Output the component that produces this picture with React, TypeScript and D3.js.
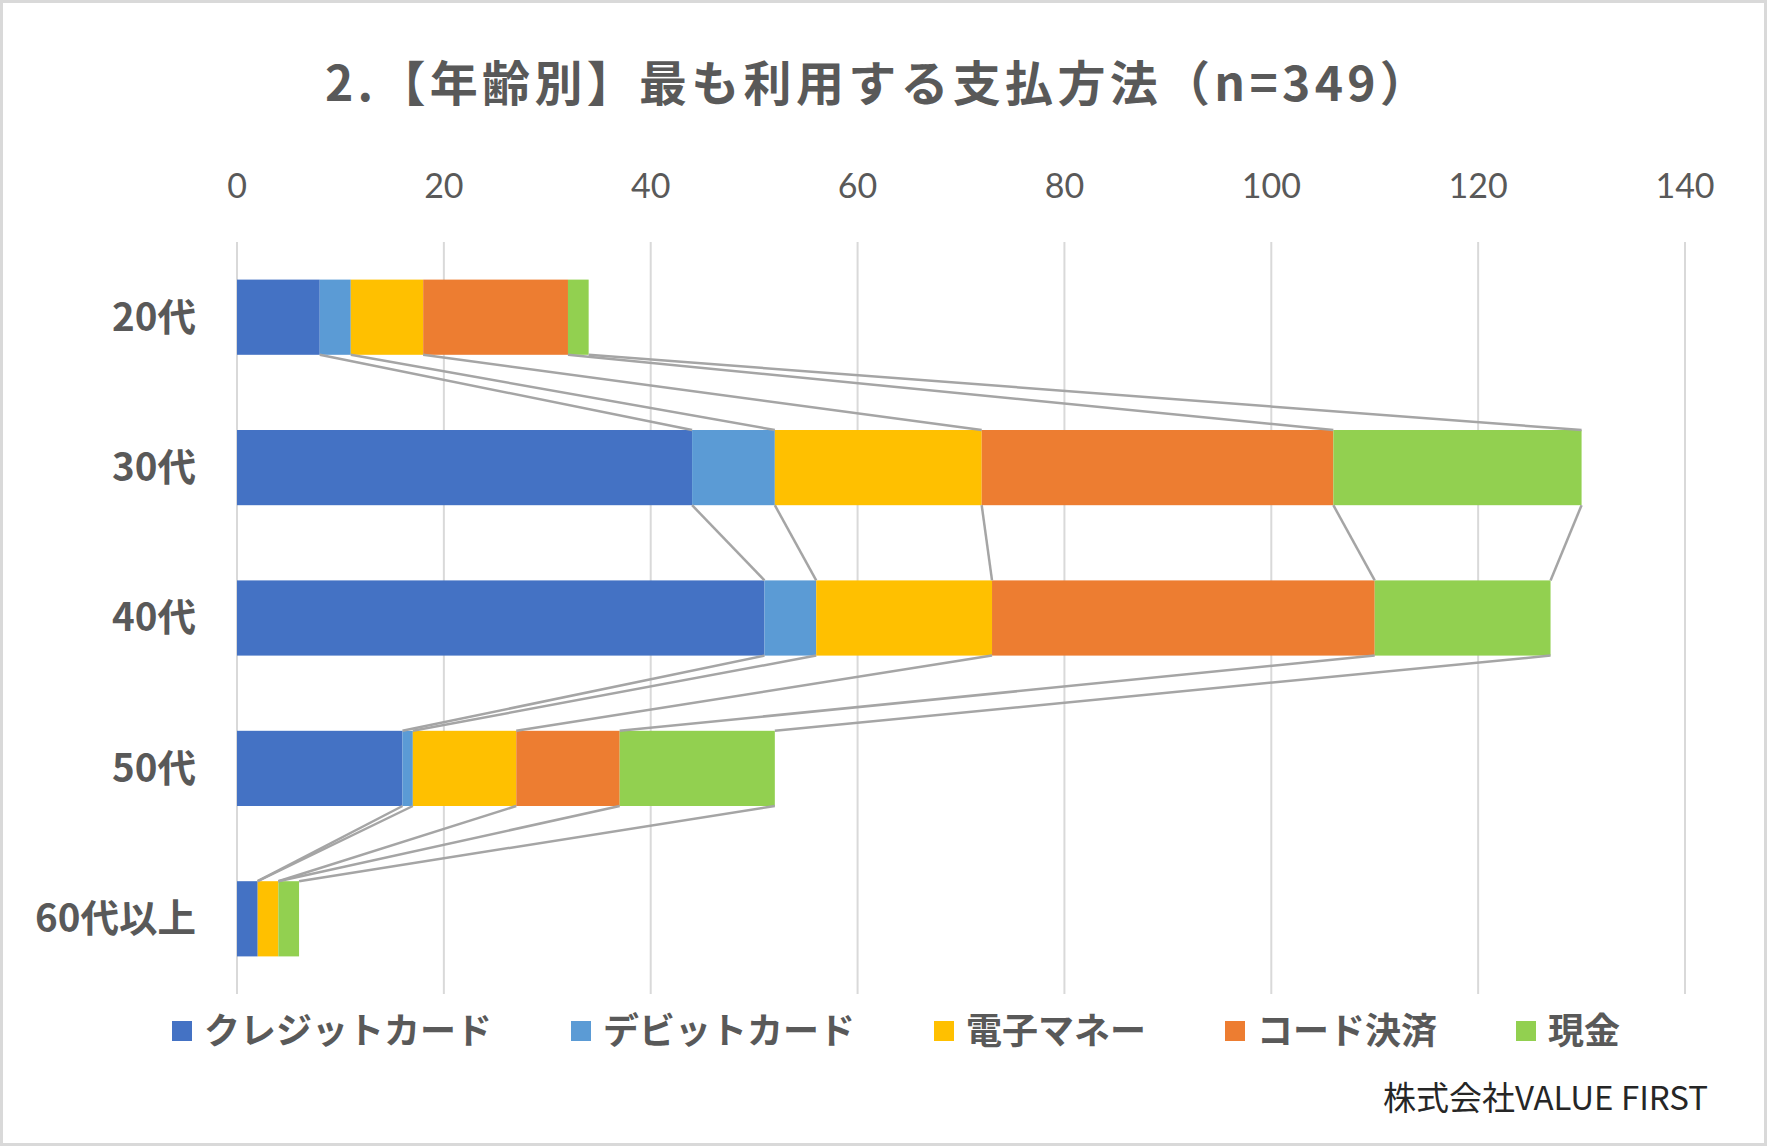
import React from "react";
import * as d3 from "d3";

const categories = ["20代", "30代", "40代", "50代", "60代以上"];
const seriesNames = ["クレジットカード", "デビットカード", "電子マネー", "コード決済", "現金"];
const credit = [8, 44, 51, 16, 2];
const debit = [3, 8, 5, 1, 0];
const emoney = [7, 20, 17, 10, 2];
const codePay = [14, 34, 37, 10, 0];
const cash = [2, 24, 17, 15, 2];
const tickValues = [0, 20, 40, 60, 80, 100, 120, 140];
const colors = ["#4472C4", "#5B9BD5", "#FFC000", "#ED7D31", "#92D050"];

const W = 1767;
const H = 1146;
const JP = "'Noto Sans CJK JP', 'Noto Sans', sans-serif";
const LAT = "Lato, 'Noto Sans CJK JP', sans-serif";

export default function App() {
  const seriesValues = [credit, debit, emoney, codePay, cash];
  const rows = categories.map((c, i) => {
    const r: any = { cat: c };
    seriesNames.forEach((s, j) => (r[s] = seriesValues[j][i]));
    return r;
  });
  const stacked = d3.stack().keys(seriesNames)(rows);

  const x = d3.scaleLinear().domain([0, 140]).range([237, 1685]);
  const y = d3.scaleBand().domain(categories).range([242, 994]).paddingInner(0.5).paddingOuter(0.25);
  const bw = y.bandwidth();

  // legend layout
  const legFont = 36;
  let lx = 172;
  const legendItems = seriesNames.map((s, j) => {
    const item = { name: s, x: lx, color: colors[j] };
    lx += 20 + 12 + s.length * legFont + 79;
    return item;
  });

  return (
    <div style={{ position: "absolute", left: 0, top: 0 }}>
      <svg width={W} height={H} style={{ display: "block", background: "#fff" }}>
        <rect x={1.5} y={1.5} width={W - 3} height={H - 3} fill="#fff" stroke="#d9d9d9" strokeWidth={3} />
        <text
          x={325}
          y={101}
          textAnchor="start"
          fontFamily={JP}
          fontWeight="bold"
          fontSize={48}
          letterSpacing={4.3}
          fill="#595959"
        >
          2.【年齢別】最も利用する支払方法（n=349）
        </text>
        {tickValues.map((t) => (
          <g key={t}>
            <line x1={x(t)} x2={x(t)} y1={242} y2={994} stroke="#d9d9d9" strokeWidth={2} />
            <text x={x(t)} y={198} textAnchor="middle" fontFamily={LAT} fontSize={34} fill="#595959">
              {t}
            </text>
          </g>
        ))}
        {categories.map((c) => (
          <text
            key={c}
            x={196}
            y={(y(c) as number) + bw / 2}
            dy="0.35em"
            textAnchor="end"
            fontFamily={JP}
            fontWeight="bold"
            fontSize={38.5}
            fill="#595959"
          >
            {c}
          </text>
        ))}
        {stacked.map((s, j) => (
          <g key={s.key}>
            {s.map((d, i) => (
              <rect
                key={i}
                x={x(d[0])}
                y={y(categories[i]) as number}
                width={Math.max(0, x(d[1]) - x(d[0]))}
                height={bw}
                fill={colors[j]}
              />
            ))}
          </g>
        ))}
        {stacked.map((s, j) => (
          <g key={"l" + s.key}>
            {s.slice(0, -1).map((d, i) => (
              <line
                key={i}
                x1={x(d[1])}
                y1={(y(categories[i]) as number) + bw}
                x2={x(s[i + 1][1])}
                y2={y(categories[i + 1]) as number}
                stroke="#A5A5A5"
                strokeWidth={2.5}
              />
            ))}
          </g>
        ))}
        {legendItems.map((it) => (
          <g key={it.name}>
            <rect x={it.x} y={1021} width={20} height={20} fill={it.color} />
            <text x={it.x + 32} y={1031} dy="0.35em" fontFamily={JP} fontWeight="bold" fontSize={legFont} fill="#595959">
              {it.name}
            </text>
          </g>
        ))}
        <text x={1708} y={1110} textAnchor="end" fontFamily={JP} fontSize={33} fill="#262626">
          株式会社VALUE FIRST
        </text>
      </svg>
    </div>
  );
}
